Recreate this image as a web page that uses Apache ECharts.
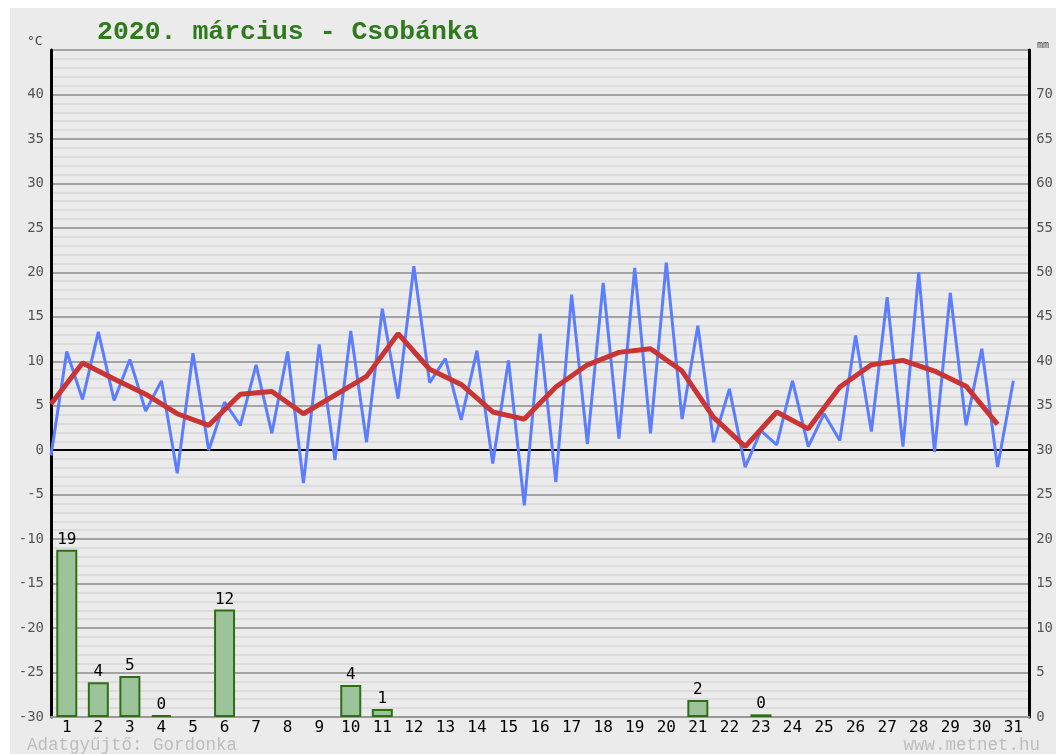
<!DOCTYPE html>
<html>
<head>
<meta charset="utf-8">
<script src="https://cdn.jsdelivr.net/npm/echarts@6/dist/echarts.min.js"></script>
<style>
  body { margin: 0; background: #fff; }
  #chart { position: absolute; left: 10px; top: 8px; width: 1046px; height: 746px; background: #ebebeb; }
</style>
</head>
<body>
<div id="chart"></div>
<script>
// napok
const days = ['1','2','3','4','5','6','7','8','9','10','11','12','13','14','15','16',
              '17','18','19','20','21','22','23','24','25','26','27','28','29','30','31'];

// félnapos hőmérséklet (min / max váltakozva), °C
const tempHalfDay = [
  -0.6, 11.1, 5.7, 13.3, 5.6, 10.2, 4.4, 7.8, -2.6, 10.9,
  0.0, 5.4, 2.8, 9.6, 1.9, 11.1, -3.7, 11.9, -1.1, 13.4,
  0.9, 15.9, 5.8, 20.7, 7.6, 10.3, 3.4, 11.2, -1.5, 10.1,
  -6.2, 13.1, -3.6, 17.5, 0.7, 18.8, 1.3, 20.5, 1.9, 21.1,
  3.5, 14.0, 0.9, 6.9, -1.9, 2.2, 0.6, 7.8, 0.4, 4.1,
  1.1, 12.9, 2.1, 17.2, 0.4, 20.0, -0.2, 17.7, 2.8, 11.4,
  -1.9, 7.8
];

// napi középhőmérséklet, °C
const tempDailyMean = [
  5.2, 9.8, 8.0, 6.3, 4.1, 2.8, 6.3, 6.6, 4.1, 6.2,
  8.3, 13.1, 9.1, 7.4, 4.3, 3.5, 7.1, 9.6, 11.0, 11.4,
  8.9, 3.7, 0.4, 4.3, 2.4, 7.1, 9.6, 10.1, 8.9, 7.2,
  2.9
];

// csapadék, mm
const precip = [
  18.8, 3.9, 4.6, 0.2, null, 12.1, null, null, null, 3.6,
  0.9, null, null, null, null, null, null, null, null, null,
  1.9, null, 0.3, null, null, null, null, null, null, null,
  null
];

const tempTicksHidden = [45];
const mmTicksHidden = [75];

const mono = 'DejaVu Sans Mono';
const courier = 'Liberation Mono';

// fő rácsvonalak színei: -30..45, a 0 fekete
const majorColors = [];
for (let v = -30; v <= 45; v += 5) majorColors.push(v === 0 ? '#000' : '#a3a3a3');

const chart = echarts.init(document.getElementById('chart'));
chart.setOption({
  animation: false,
  backgroundColor: '#ebebeb',
  title: {
    text: '2020. március - Csobánka',
    left: 82,
    top: 6,
    textStyle: {
      fontFamily: courier,
      fontWeight: 'bold',
      fontSize: 26.5,
      color: '#2e7a1c'
    }
  },
  grid: { left: 41, right: 16, top: 42, bottom: 37 },
  xAxis: [
    {
      type: 'category',
      data: days,
      boundaryGap: true,
      axisLine: { onZero: false, lineStyle: { color: '#999', width: 2 } },
      axisTick: { show: false },
      axisLabel: { color: '#000', fontFamily: mono, fontSize: 16, margin: 3 },
      splitLine: { show: false }
    },
    {
      type: 'value',
      min: 0,
      max: days.length * 2,
      show: false
    }
  ],
  yAxis: [
    {
      type: 'value',
      min: -30,
      max: 45,
      interval: 5,
      position: 'left',
      axisLine: { show: true, onZero: false, lineStyle: { color: '#000', width: 3 } },
      axisTick: { show: false },
      axisLabel: {
        color: '#555',
        fontFamily: mono,
        fontSize: 14,
        margin: 7,
        formatter: v => tempTicksHidden.includes(v) ? '' : String(v)
      },
      splitLine: { show: true, lineStyle: { color: majorColors, width: 2 } },
      minorTick: { show: false, splitNumber: 5 },
      minorSplitLine: { show: true, lineStyle: { color: '#dcdcdc', width: 2 } }
    },
    {
      type: 'value',
      min: 0,
      max: 75,
      interval: 5,
      position: 'right',
      axisLine: { show: true, onZero: false, lineStyle: { color: '#000', width: 3 } },
      axisTick: { show: false },
      axisLabel: {
        color: '#555',
        fontFamily: mono,
        fontSize: 14,
        margin: 7,
        formatter: v => mmTicksHidden.includes(v) ? '' : String(v)
      },
      splitLine: { show: false }
    }
  ],
  graphic: [
    { type: 'text', left: 17, top: 27, style: { text: '°C', font: '13px ' + mono, fill: '#444' } },
    { type: 'text', left: 1027, top: 32, style: { text: 'mm', font: '10px ' + mono, fill: '#444' } },
    { type: 'text', left: 17, top: 728, style: { text: 'Adatgyűjtő: Gordonka', font: '17.5px ' + courier, fill: '#bdbdbd' } },
    { type: 'text', right: 16, top: 728, style: { text: 'www.metnet.hu', font: '17.5px ' + courier, fill: '#bdbdbd' } }
  ],
  series: [
    {
      type: 'bar',
      xAxisIndex: 0,
      yAxisIndex: 1,
      data: precip,
      barWidth: 21,
      itemStyle: { color: '#9cc49a', borderColor: '#2f6e14', borderWidth: 2 },
      label: {
        show: true,
        position: 'top',
        distance: 2,
        color: '#000',
        fontFamily: mono,
        fontSize: 16,
        formatter: p => p.value == null ? '' : String(Math.round(p.value))
      },
      z: 2
    },
    {
      type: 'line',
      xAxisIndex: 1,
      yAxisIndex: 0,
      data: tempHalfDay.map((v, k) => [k, v]),
      symbol: 'none',
      lineStyle: { color: '#5b7dff', width: 3 },
      z: 3
    },
    {
      type: 'line',
      xAxisIndex: 1,
      yAxisIndex: 0,
      data: tempDailyMean.map((v, i) => [i * 2, v]),
      symbol: 'none',
      lineStyle: { color: '#c93434', width: 5 },
      z: 4
    }
  ]
});
</script>
</body>
</html>
